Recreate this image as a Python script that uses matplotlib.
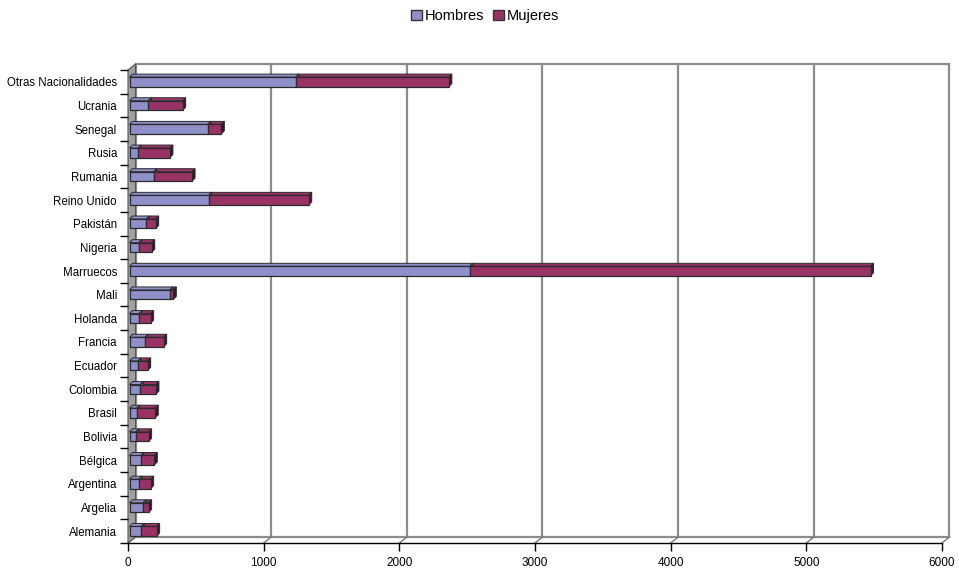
"""
Stacked horizontal bars (Hombres / Mujeres) by nationality, drawn with a
pseudo-3D look: grey side wall, back plane with gridlines, bars with top
and side faces.
"""
import matplotlib

matplotlib.use("Agg")
import matplotlib.pyplot as plt
import numpy as np
from matplotlib.patches import Patch, Polygon

plt.rcParams["font.family"] = ["Liberation Sans", "DejaVu Sans"]

countries = ["Alemania", "Argelia", "Argentina", "Bélgica", "Bolivia", "Brasil",
             "Colombia", "Ecuador", "Francia", "Holanda", "Mali", "Marruecos",
             "Nigeria", "Pakistán", "Reino Unido", "Rumania", "Rusia", "Senegal",
             "Ucrania", "Otras Nacionalidades"]
hombres = [87, 102, 70, 83, 48, 53, 80, 63, 116, 72, 298, 2509,
           68, 124, 584, 178, 63, 578, 139, 1227]
mujeres = [113, 39, 86, 100, 93, 137, 115, 71, 136, 84, 25, 2953,
           96, 69, 737, 283, 235, 99, 253, 1127]
x_ticks = [0, 1000, 2000, 3000, 4000, 5000, 6000]

C_H = "#8f8fc9"
C_M = "#993366"
DEPTH_PX = (7.5, 6.0)   # wall / back plane depth
BAR_PX = (3.0, 3.0)     # bar top / side depth
BAR_H = 0.4

W, H = 959, 569
fig = plt.figure(figsize=(W / 100, H / 100), dpi=100)
ax = fig.add_axes([128 / W, (H - 543) / H, (942 - 128) / W, (543 - 70) / H])
n = len(countries)
y = np.arange(n)
ax.set_xlim(0, 6000)
ax.set_ylim(-0.5, n - 0.5)


def px2data(dx, dy):
    # pixel offsets -> data offsets (axes position/limits are fixed)
    p0 = ax.transData.inverted().transform((0, 0))
    p1 = ax.transData.inverted().transform((dx, dy))
    return p1[0] - p0[0], p1[1] - p0[1]


ddx, ddy = px2data(*DEPTH_PX)
bdx, bdy = px2data(*BAR_PX)
gap, _ = px2data(1.5, 0)
x0, x1 = ax.get_xlim()
y0, y1 = ax.get_ylim()

# back plane + gridlines
ax.add_patch(Polygon([(x0 + ddx, y0 + ddy), (x1 + ddx, y0 + ddy),
                      (x1 + ddx, y1 + ddy), (x0 + ddx, y1 + ddy)],
                     closed=True, fc="white", ec="#8c8c8c", lw=1.6,
                     clip_on=False, zorder=0))
for t in x_ticks[1:-1]:
    ax.plot([t + ddx, t + ddx], [y0 + ddy, y1 + ddy], color="#8c8c8c",
            lw=1.6, clip_on=False, zorder=0.5)
# floor diagonals at each tick
for t in x_ticks:
    ax.plot([t, t + ddx], [y0, y0 + ddy], color="#777777", lw=1.0,
            clip_on=False, zorder=0.5)

# side wall
ax.add_patch(Polygon([(x0, y0), (x0 + ddx, y0 + ddy), (x0 + ddx, y1 + ddy),
                      (x0, y1)], closed=True, fc="#a0a0a0", ec="#555555",
                     lw=0.8, clip_on=False, zorder=1))

# bars
lefts = [np.full(n, gap), gap + np.array(hombres, float)]
for vals, left, col in [(hombres, lefts[0], C_H), (mujeres, lefts[1], C_M)]:
    vals = np.asarray(vals, float)
    ax.barh(y, vals, left=left, height=BAR_H, color=col, edgecolor="#2b2b2b",
            linewidth=0.9, zorder=3)
    for yi, v, l in zip(y, vals, left):
        top = yi + BAR_H / 2
        bot = yi - BAR_H / 2
        ax.add_patch(Polygon([(l, top), (l + v, top), (l + v + bdx, top + bdy),
                              (l + bdx, top + bdy)], closed=True, fc=col,
                             ec="#2b2b2b", lw=0.7, zorder=2.5))
        ax.add_patch(Polygon([(l + v, bot), (l + v + bdx, bot + bdy),
                              (l + v + bdx, top + bdy), (l + v, top)],
                             closed=True, fc="#3a1428" if col == C_M else "#4a4a7a",
                             ec="#2b2b2b", lw=0.7, zorder=2.6))

for s in ["top", "right", "left"]:
    ax.spines[s].set_visible(False)
ax.spines["bottom"].set_color("black")
ax.spines["bottom"].set_linewidth(1.0)

ax.set_xticks(x_ticks)
ax.set_xticklabels([str(t) for t in x_ticks], fontsize=8.5)
ax.tick_params(axis="x", direction="out", length=6, width=1.0, pad=4)
ax.set_yticks(y)
ax.set_yticklabels(countries, fontsize=8.3)
ax.tick_params(axis="y", length=0, pad=8)
ax.set_yticks(np.arange(-0.5, n, 1.0), minor=True)
ax.tick_params(axis="y", which="minor", length=6, width=1.0, color="black")

handles = [Patch(fc=C_H, ec="#333333", label="Hombres"),
           Patch(fc=C_M, ec="#333333", label="Mujeres")]
fig.legend(handles=handles, loc="upper center", bbox_to_anchor=(485 / W, 1 + 4 / H),
           ncol=2, frameon=False, fontsize=10.5, handlelength=0.75,
           handleheight=0.75, handletextpad=0.2, columnspacing=0.6)

fig.savefig("out.png", dpi=100)
